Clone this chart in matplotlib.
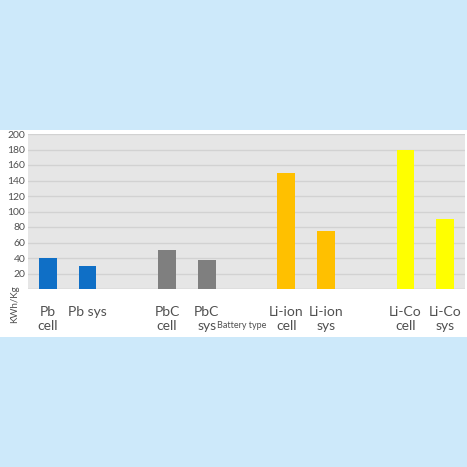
import matplotlib

matplotlib.use("Agg")
import matplotlib.pyplot as plt
from matplotlib.patches import Rectangle

# data (empty slots are the gaps between battery families)
categories = ["Pb\ncell", "Pb sys", "", "PbC\ncell", "PbC\nsys", "",
              "Li-ion\ncell", "Li-ion\nsys", "", "Li-Co\ncell", "Li-Co\nsys"]
values = [40, 30, 0, 50, 38, 0, 150, 75, 0, 180, 90]
bar_colors = ["#0f6fc6", "#0f6fc6", "none", "#7f7f7f", "#7f7f7f", "none",
              "#ffc000", "#ffc000", "none", "#ffff00", "#ffff00"]
yticks = [0, 20, 40, 60, 80, 100, 120, 140, 160, 180, 200]
ytick_labels = ["", "20", "40", "60", "80", "100", "120", "140", "160", "180", "200"]

W = H = 467
plt.rcParams["font.family"] = ["Lato", "DejaVu Sans"]

fig = plt.figure(figsize=(W / 100, H / 100), dpi=100, facecolor="#cde9fa")

# white chart box behind the axes
fig.patches.append(Rectangle((0, 1 - 337 / H), 1, (337 - 130) / H,
                             transform=fig.transFigure, facecolor="white",
                             edgecolor="none", zorder=-10))

ax = fig.add_axes([28 / W, 1 - 289 / H, (465 - 28) / W, (289 - 134) / H])
ax.set_zorder(1)
ax.set_facecolor("#e6e6e6")
x = list(range(len(categories)))
ax.bar(x, values, width=0.44, color=bar_colors, zorder=3)
ax.set_xlim(-0.5, len(categories) - 0.5)
ax.set_ylim(0, 200)
ax.set_yticks(yticks)
ax.set_yticklabels(ytick_labels, fontsize=7.5, color="#505050")
ax.set_xticks(x)
ax.set_xticklabels(categories, fontsize=10, color="#505050", linespacing=1.25)
ax.tick_params(axis="both", length=0)
ax.tick_params(axis="x", pad=12)
ax.tick_params(axis="y", pad=2)
ax.grid(axis="y", color="#d2d2d2", linewidth=1, zorder=1)
for s in ax.spines.values():
    s.set_visible(False)
ax.axhline(0, color="#d2d2d2", linewidth=1, zorder=2)

fig.text(15 / W, 1 - 304 / H, "KWh/Kg", rotation=90, fontsize=7,
         color="#505050", ha="center", va="center", zorder=5)
fig.text(217 / W, 1 - 326 / H, "Battery type", fontsize=6.5,
         color="#505050", ha="left", va="center", zorder=5)

fig.savefig("out.png", dpi=100, facecolor=fig.get_facecolor())
